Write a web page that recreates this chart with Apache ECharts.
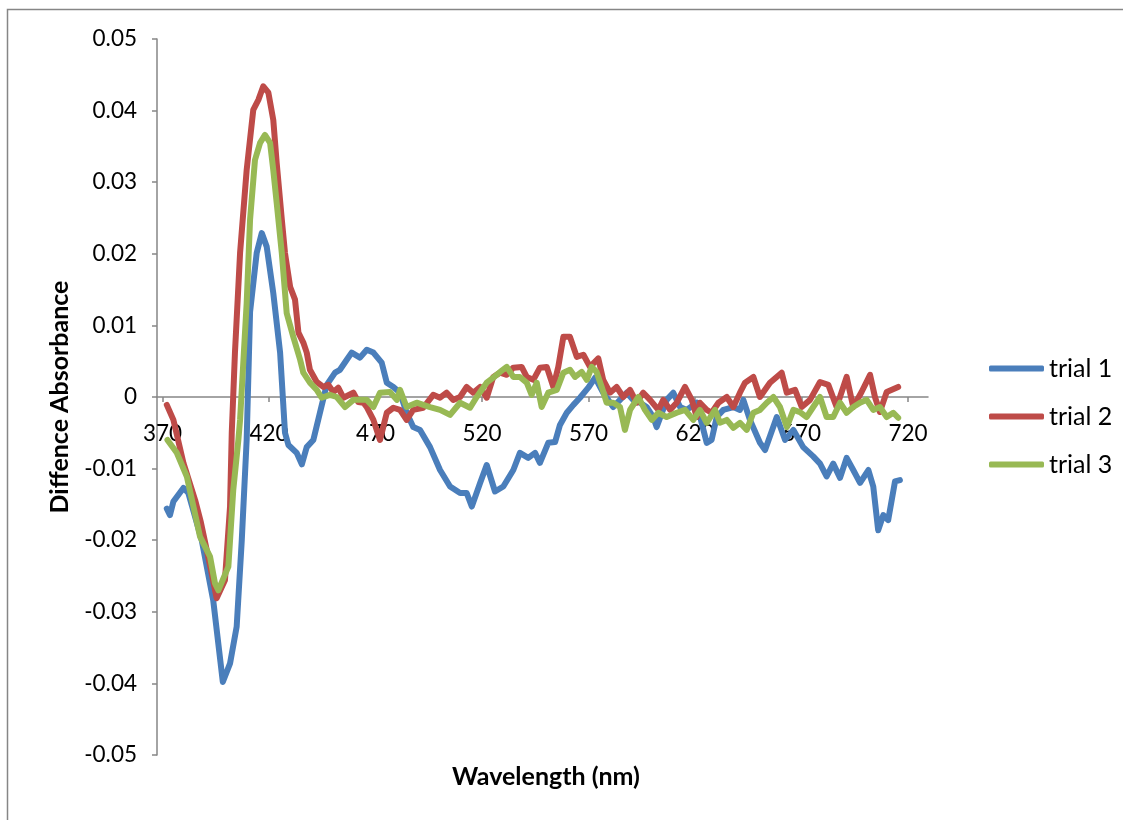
<!DOCTYPE html>
<html>
<head>
<meta charset="utf-8">
<title>Difference Absorbance</title>
<script src="https://cdn.jsdelivr.net/npm/echarts@6/dist/echarts.min.js"></script>
<style>
  html, body { margin: 0; padding: 0; background: #ffffff; }
  #chart { width: 1123px; height: 820px; }
</style>
</head>
<body>
<div id="chart"></div>
<script>
// Difference absorbance spectra, [wavelength nm, absorbance]
const trial1 = [
  [372.0,-0.0156],[373.5,-0.0165],[375.1,-0.0146],[379.8,-0.0127],[382.1,-0.0134],
  [388.4,-0.0200],[393.8,-0.0284],[398.3,-0.0398],[401.7,-0.0372],[404.8,-0.0321],
  [407.2,-0.0200],[409.5,-0.0060],[411.1,0.0119],[414.2,0.0201],[416.6,0.0229],
  [418.9,0.0210],[422.0,0.0145],[425.2,0.0062],[427.5,-0.0050],[429.1,-0.0067],
  [433.0,-0.0078],[435.4,-0.0094],[437.7,-0.0070],[440.8,-0.0060],[443.9,-0.0022],
  [447.1,0.0017],[451.0,0.0034],[453.3,0.0038],[456.5,0.0052],[458.8,0.0062],
  [462.7,0.0055],[465.9,0.0066],[469.0,0.0062],[472.9,0.0048],[475.3,0.0020],
  [478.4,0.0014],[481.5,0.0006],[484.6,-0.0022],[487.7,-0.0042],[490.9,-0.0046],
  [495.6,-0.0070],[500.3,-0.0102],[505.0,-0.0125],[509.7,-0.0134],[512.8,-0.0134],
  [515.2,-0.0153],[519.1,-0.0120],[522.2,-0.0095],[526.1,-0.0132],[530.0,-0.0125],
  [534.7,-0.0102],[537.8,-0.0078],[541.7,-0.0085],[544.9,-0.0078],[547.2,-0.0092],
  [551.1,-0.0064],[554.3,-0.0063],[556.6,-0.0039],[559.8,-0.0022],[562.9,-0.0011],
  [566.0,-0.0001],[569.9,0.0013],[573.1,0.0027],[576.9,0.0006],[581.6,-0.0014],
  [584.8,-0.0004],[587.9,0.0006],[591.0,-0.0004],[594.2,-0.0008],[597.3,-0.0014],
  [600.4,-0.0028],[602.0,-0.0042],[606.7,-0.0004],[609.8,0.0006],[613.0,-0.0014],
  [616.1,-0.0018],[620.8,-0.0008],[623.1,-0.0036],[625.5,-0.0064],[627.8,-0.0060],
  [630.2,-0.0028],[633.3,-0.0018],[638.0,-0.0014],[641.1,-0.0018],[642.7,-0.0004],
  [645.8,-0.0032],[650.5,-0.0064],[652.9,-0.0074],[658.4,-0.0028],[662.3,-0.0060],
  [666.2,-0.0046],[670.8,-0.0070],[675.5,-0.0083],[678.7,-0.0093],[681.8,-0.0111],
  [684.9,-0.0093],[688.1,-0.0113],[691.2,-0.0085],[694.3,-0.0102],[697.5,-0.0120],
  [701.4,-0.0102],[703.7,-0.0125],[706.0,-0.0186],[708.4,-0.0165],[710.7,-0.0172],
  [713.9,-0.0118],[716.2,-0.0116]
];

const trial2 = [
  [372.0,-0.0011],[375.1,-0.0032],[379.8,-0.0092],[385.3,-0.0144],[388.0,-0.0175],
  [392.3,-0.0235],[395.4,-0.0281],[399.3,-0.0256],[401.7,-0.0153],[402.5,-0.0050],
  [404.0,0.0062],[406.4,0.0201],[409.5,0.0317],[412.6,0.0401],[415.0,0.0415],
  [417.3,0.0434],[419.7,0.0425],[422.0,0.0387],[423.6,0.0327],[426.0,0.0248],
  [427.5,0.0201],[429.9,0.0154],[432.2,0.0136],[433.8,0.0090],[436.1,0.0076],
  [437.7,0.0062],[439.2,0.0038],[442.4,0.0021],[445.5,0.0014],[447.8,0.0017],
  [450.2,0.0007],[452.5,0.0013],[454.9,-0.0001],[459.6,0.0006],[461.9,-0.0007],
  [464.3,-0.0008],[465.9,-0.0014],[469.0,-0.0032],[472.1,-0.0060],[475.3,-0.0022],
  [478.4,-0.0015],[481.5,-0.0018],[484.6,-0.0032],[487.7,-0.0018],[492.4,-0.0015],
  [497.1,0.0003],[500.3,-0.0001],[503.4,0.0006],[506.5,-0.0004],[509.7,0.0000],
  [512.8,0.0014],[515.9,0.0006],[519.1,0.0014],[522.2,-0.0001],[525.3,0.0028],
  [528.5,0.0034],[531.6,0.0031],[534.7,0.0041],[538.6,0.0042],[541.0,0.0028],
  [544.1,0.0024],[547.2,0.0041],[550.4,0.0042],[553.5,0.0014],[555.8,0.0042],
  [558.2,0.0084],[561.3,0.0084],[564.5,0.0056],[567.6,0.0059],[570.7,0.0042],
  [574.6,0.0054],[576.9,0.0024],[580.1,0.0006],[583.2,0.0014],[586.3,0.0000],
  [589.5,0.0010],[592.6,-0.0008],[595.7,0.0006],[598.9,-0.0004],[602.8,-0.0018],
  [605.1,-0.0004],[608.3,-0.0018],[611.4,-0.0008],[615.3,0.0014],[618.5,-0.0004],
  [620.8,-0.0028],[622.3,-0.0008],[625.5,-0.0018],[627.8,-0.0022],[631.0,-0.0008],
  [634.9,0.0000],[638.0,-0.0014],[641.1,0.0006],[643.5,0.0020],[647.4,0.0028],
  [650.5,0.0000],[655.2,0.0020],[660.7,0.0034],[663.1,0.0006],[667.0,0.0010],
  [670.1,-0.0014],[674.0,-0.0004],[678.7,0.0021],[682.6,0.0017],[686.5,-0.0014],
  [691.2,0.0028],[694.3,-0.0014],[698.2,0.0007],[702.2,0.0031],[704.5,0.0000],
  [706.8,-0.0021],[710.0,0.0007],[715.4,0.0014]
];

const trial3 = [
  [372.3,-0.0060],[376.7,-0.0078],[381.4,-0.0111],[387.6,-0.0195],[392.3,-0.0223],
  [394.6,-0.0260],[396.2,-0.0270],[400.9,-0.0237],[403.2,-0.0130],[405.6,-0.0060],
  [406.4,-0.0032],[409.5,0.0131],[411.1,0.0248],[413.4,0.0331],[415.8,0.0355],
  [418.1,0.0366],[420.5,0.0355],[422.0,0.0317],[423.6,0.0271],[426.0,0.0201],
  [428.3,0.0117],[431.4,0.0084],[434.6,0.0052],[436.1,0.0034],[439.2,0.0020],
  [442.4,0.0010],[444.7,-0.0001],[448.6,0.0003],[451.8,0.0000],[455.7,-0.0014],
  [459.6,-0.0004],[465.9,-0.0004],[469.0,-0.0014],[472.1,0.0006],[476.8,0.0007],
  [480.0,-0.0004],[481.5,0.0010],[484.6,-0.0014],[489.3,-0.0008],[495.6,-0.0014],
  [500.3,-0.0018],[505.0,-0.0025],[509.7,-0.0008],[514.4,-0.0015],[517.5,0.0000],
  [522.2,0.0020],[525.3,0.0027],[528.5,0.0035],[531.6,0.0042],[534.7,0.0028],
  [537.8,0.0028],[541.0,0.0020],[543.3,0.0003],[545.7,0.0020],[548.0,-0.0014],
  [551.1,0.0006],[555.1,0.0010],[558.2,0.0034],[561.3,0.0038],[563.7,0.0028],
  [566.8,0.0035],[569.2,0.0024],[571.5,0.0042],[573.8,0.0035],[576.2,0.0014],
  [578.5,-0.0008],[581.6,-0.0008],[584.8,-0.0014],[587.1,-0.0046],[589.5,-0.0018],
  [593.4,0.0000],[596.5,-0.0018],[599.7,-0.0032],[602.8,-0.0022],[606.7,-0.0028],
  [611.4,-0.0022],[615.3,-0.0018],[619.2,-0.0032],[622.3,-0.0018],[625.5,-0.0036],
  [629.4,-0.0018],[631.7,-0.0036],[634.9,-0.0032],[638.0,-0.0043],[641.1,-0.0036],
  [644.3,-0.0046],[647.4,-0.0022],[650.5,-0.0018],[653.7,-0.0008],[656.8,0.0000],
  [659.9,-0.0014],[663.1,-0.0042],[666.2,-0.0018],[669.3,-0.0021],[672.4,-0.0028],
  [675.5,-0.0014],[678.7,0.0000],[681.8,-0.0028],[684.9,-0.0028],[688.1,-0.0008],
  [691.2,-0.0022],[694.3,-0.0014],[697.5,-0.0008],[700.6,-0.0004],[703.7,-0.0018],
  [706.8,-0.0014],[710.0,-0.0028],[713.1,-0.0022],[715.4,-0.0029]
];

const seriesNames = ['trial 1', 'trial 2', 'trial 3'];
const seriesColors = ['#4A7EBB', '#BE4B48', '#98B954'];
const xTickValues = [370, 420, 470, 520, 570, 620, 670, 720];

const FONT = 'Lato, "Open Sans", "Liberation Sans", sans-serif';
const AXIS_GRAY = '#868686';

// plot area in pixels; the wavelength axis is lifted to the zero line
const GRID = { left: 157, top: 39, right: 195, bottom: 65 };
const PLOT_H = 820 - GRID.top - GRID.bottom;
const Y_MIN = -0.05, Y_MAX = 0.05;
const zeroLift = -PLOT_H * (0 - Y_MIN) / (Y_MAX - Y_MIN);

const chart = echarts.init(document.getElementById('chart'), null, { renderer: 'canvas' });

const option = {
  animation: false,
  backgroundColor: '#ffffff',
  textStyle: { fontFamily: FONT },
  grid: Object.assign({ containLabel: false, outerBoundsMode: 'none' }, GRID),
  xAxis: {
    type: 'value',
    min: 367.4,
    max: 729.4,
    offset: zeroLift,
    axisLine: { onZero: false, lineStyle: { color: AXIS_GRAY, width: 1.5 } },
    axisTick: { show: true, inside: false, length: 5, customValues: xTickValues,
                lineStyle: { color: AXIS_GRAY, width: 1.5 } },
    axisLabel: { customValues: xTickValues, color: '#000', fontSize: 22.5,
                 fontFamily: FONT, margin: 25 },
    splitLine: { show: false }
  },
  yAxis: {
    type: 'value',
    min: Y_MIN,
    max: Y_MAX,
    interval: 0.01,
    axisLine: { show: true, onZero: false, lineStyle: { color: AXIS_GRAY, width: 1.5 } },
    axisTick: { show: true, inside: false, length: 5, lineStyle: { color: AXIS_GRAY, width: 1.5 } },
    axisLabel: {
      color: '#000', fontSize: 22.5, fontFamily: FONT, margin: 20,
      formatter: v => (Math.abs(v) < 1e-9 ? '0' : v.toFixed(2))
    },
    splitLine: { show: false }
  },
  legend: {
    orient: 'vertical',
    left: 984,
    top: 351,
    icon: 'roundRect',
    itemWidth: 55,
    itemHeight: 6,
    itemGap: 23,
    textStyle: { color: '#000', fontSize: 25, lineHeight: 25, fontFamily: FONT },
    data: seriesNames
  },
  series: [trial1, trial2, trial3].map((d, i) => ({
    name: seriesNames[i],
    type: 'line',
    data: d,
    symbol: 'none',
    smooth: false,
    z: 3 + i,
    lineStyle: { color: seriesColors[i], width: 6, cap: 'round', join: 'round' },
    itemStyle: { color: seriesColors[i] }
  })),
  graphic: [
    {
      type: 'rect',
      silent: true,
      shape: { x: 7.5, y: 9.5, width: 1300, height: 1000 },
      style: { fill: 'none', stroke: AXIS_GRAY, lineWidth: 1.5 }
    },
    {
      type: 'text',
      silent: true,
      x: 60, y: 397,
      rotation: Math.PI / 2,
      style: {
        text: 'Diffence Absorbance',
        fill: '#000', font: 'bold 25px ' + FONT,
        textAlign: 'center', textVerticalAlign: 'middle'
      }
    },
    {
      type: 'text',
      silent: true,
      x: 546, y: 777,
      style: {
        text: 'Wavelength (nm)',
        fill: '#000', font: 'bold 25px ' + FONT,
        textAlign: 'center', textVerticalAlign: 'middle'
      }
    }
  ]
};

chart.setOption(option);
</script>
</body>
</html>
